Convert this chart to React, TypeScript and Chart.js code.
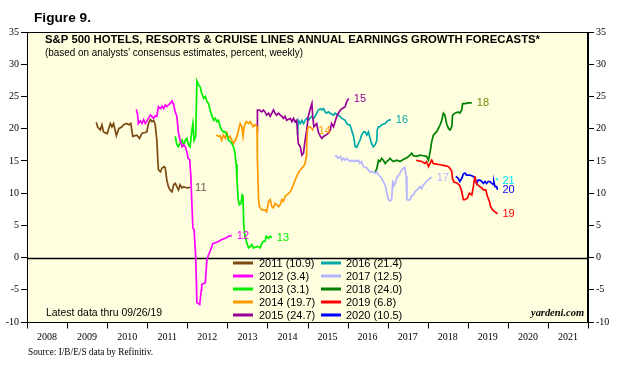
import React, { useEffect, useRef } from "react";
import { Chart, registerables } from "chart.js";

Chart.register(...registerables);

type P = [number, number];

// ---- data: [year (decimal), forecast growth %] ----
const s2011: P[] = [[2009.73,21.0],[2009.76,20.3],[2009.83,19.8],[2009.87,20.6],[2009.91,19.5],[2010.00,19.2],[2010.08,20.8],[2010.12,20.3],[2010.16,20.8],[2010.23,18.9],[2010.29,20.0],[2010.37,20.3],[2010.41,20.6],[2010.49,20.8],[2010.54,20.6],[2010.59,20.8],[2010.64,18.8],[2010.74,19.0],[2010.81,18.5],[2010.87,19.3],[2010.95,19.4],[2010.99,19.5],[2011.03,20.8],[2011.08,21.4],[2011.12,21.1],[2011.16,21.3],[2011.20,20.6],[2011.24,18.2],[2011.26,15.7],[2011.28,13.6],[2011.33,13.3],[2011.37,13.9],[2011.42,14.1],[2011.45,13.9],[2011.49,12.0],[2011.53,11.0],[2011.57,10.5],[2011.62,10.2],[2011.66,11.3],[2011.70,11.5],[2011.74,11.0],[2011.78,10.5],[2011.82,11.3],[2011.87,10.8],[2011.91,11.0],[2011.99,10.8],[2012.07,10.9]];
const s2012: P[] = [[2010.73,23.0],[2010.76,22.1],[2010.78,20.8],[2010.83,21.2],[2010.87,20.8],[2010.91,21.4],[2010.95,20.8],[2010.99,21.2],[2011.03,21.6],[2011.08,22.1],[2011.12,21.9],[2011.16,21.6],[2011.20,22.0],[2011.24,21.9],[2011.28,23.4],[2011.33,23.1],[2011.37,23.5],[2011.41,23.1],[2011.45,23.7],[2011.49,23.4],[2011.53,23.7],[2011.57,23.9],[2011.62,24.3],[2011.66,23.7],[2011.70,22.6],[2011.74,21.9],[2011.78,19.3],[2011.82,18.2],[2011.87,17.2],[2011.91,17.5],[2011.95,17.2],[2011.99,16.4],[2012.02,15.4],[2012.06,15.2],[2012.09,12.6],[2012.11,9.0],[2012.14,4.6],[2012.17,4.3],[2012.21,0.2],[2012.24,-7.0],[2012.31,-7.3],[2012.35,-5.0],[2012.36,-4.2],[2012.45,-3.9],[2012.49,-0.3],[2012.53,0.4],[2012.57,1.0],[2012.64,2.2],[2012.70,2.3],[2012.78,2.5],[2012.86,2.8],[2012.95,3.0],[2013.03,3.3],[2013.11,3.4]];
const s2013: P[] = [[2011.70,18.8],[2011.74,17.5],[2011.78,17.2],[2011.82,17.7],[2011.87,18.2],[2011.91,17.5],[2011.95,18.2],[2011.99,18.5],[2012.03,17.5],[2012.07,17.2],[2012.11,19.5],[2012.14,20.8],[2012.17,18.2],[2012.21,18.8],[2012.24,27.4],[2012.28,26.8],[2012.32,26.5],[2012.36,25.5],[2012.41,24.7],[2012.45,25.0],[2012.49,24.2],[2012.53,23.9],[2012.57,22.9],[2012.61,22.1],[2012.66,21.3],[2012.70,21.6],[2012.74,21.1],[2012.78,21.3],[2012.82,20.3],[2012.86,19.8],[2012.90,19.5],[2012.95,19.5],[2012.99,19.0],[2013.03,18.2],[2013.07,18.0],[2013.11,17.7],[2013.15,17.2],[2013.19,16.2],[2013.22,14.5],[2013.24,12.0],[2013.27,9.0],[2013.30,8.2],[2013.34,8.4],[2013.37,9.7],[2013.39,9.5],[2013.41,5.0],[2013.44,3.3],[2013.49,2.2],[2013.53,1.5],[2013.57,1.7],[2013.61,2.0],[2013.65,1.5],[2013.74,1.7],[2013.78,1.7],[2013.82,1.5],[2013.86,2.2],[2013.90,2.5],[2013.94,2.5],[2013.97,3.3],[2014.03,3.0],[2014.07,3.3],[2014.11,3.1]];
const s2014: P[] = [[2012.72,19.0],[2012.78,18.8],[2012.82,18.9],[2012.86,18.2],[2012.90,19.0],[2012.95,18.5],[2012.99,19.3],[2013.03,18.5],[2013.07,18.8],[2013.11,18.2],[2013.15,17.7],[2013.20,18.2],[2013.24,18.8],[2013.28,19.8],[2013.32,20.8],[2013.36,20.3],[2013.39,18.8],[2013.42,20.3],[2013.47,21.1],[2013.53,20.8],[2013.57,21.1],[2013.64,20.3],[2013.69,20.6],[2013.74,20.3],[2013.75,15.1],[2013.78,9.0],[2013.80,7.9],[2013.86,7.4],[2013.94,7.4],[2013.98,7.1],[2014.03,8.7],[2014.07,9.0],[2014.11,7.9],[2014.15,7.7],[2014.19,8.4],[2014.23,8.2],[2014.28,7.9],[2014.32,8.2],[2014.36,9.0],[2014.40,8.7],[2014.44,9.5],[2014.48,9.7],[2014.57,10.2],[2014.61,10.7],[2014.65,11.3],[2014.69,12.0],[2014.73,12.6],[2014.77,13.1],[2014.82,13.6],[2014.86,13.9],[2014.90,14.1],[2014.94,14.6],[2014.97,15.7],[2014.98,17.7],[2015.00,19.8],[2015.02,20.3],[2015.06,20.3],[2015.11,20.0],[2015.15,19.7]];
const s2015: P[] = [[2013.74,19.5],[2013.75,22.9],[2013.80,22.9],[2013.86,22.6],[2013.90,22.9],[2013.94,22.6],[2013.98,22.1],[2014.03,22.4],[2014.07,21.9],[2014.11,22.4],[2014.15,22.9],[2014.19,22.4],[2014.23,22.1],[2014.28,22.4],[2014.32,22.1],[2014.36,21.9],[2014.40,21.6],[2014.44,21.9],[2014.48,21.3],[2014.57,21.6],[2014.61,21.1],[2014.65,21.6],[2014.69,21.1],[2014.73,21.3],[2014.75,19.5],[2014.77,17.7],[2014.82,17.2],[2014.86,15.9],[2014.90,16.2],[2014.94,18.2],[2014.98,19.8],[2015.02,21.9],[2015.06,22.9],[2015.11,23.9],[2015.13,21.9],[2015.16,20.3],[2015.23,20.8],[2015.27,19.5],[2015.32,18.8],[2015.36,18.5],[2015.40,18.8],[2015.46,19.0],[2015.52,19.3],[2015.57,19.8],[2015.60,20.8],[2015.65,20.3],[2015.69,21.1],[2015.73,21.9],[2015.77,22.4],[2015.82,22.9],[2015.86,23.1],[2015.94,23.4],[2015.98,24.2],[2016.03,24.7]];
const s2016: P[] = [[2014.75,19.0],[2014.77,21.3],[2014.82,20.8],[2014.86,21.3],[2014.90,20.8],[2014.94,21.3],[2014.98,21.6],[2015.02,21.3],[2015.06,21.6],[2015.11,21.9],[2015.15,21.6],[2015.19,21.9],[2015.23,22.4],[2015.27,22.9],[2015.32,23.1],[2015.36,22.9],[2015.40,23.1],[2015.44,22.6],[2015.48,22.4],[2015.52,22.6],[2015.57,22.4],[2015.65,22.1],[2015.69,22.4],[2015.77,22.1],[2015.86,21.6],[2015.94,21.3],[2015.98,20.8],[2016.02,20.6],[2016.06,20.6],[2016.10,19.8],[2016.15,18.8],[2016.19,17.2],[2016.23,17.1],[2016.27,17.7],[2016.31,18.2],[2016.35,19.0],[2016.40,19.5],[2016.44,19.5],[2016.48,19.0],[2016.52,19.5],[2016.56,18.5],[2016.60,17.7],[2016.64,17.2],[2016.69,17.5],[2016.73,18.2],[2016.74,19.8],[2016.77,20.3],[2016.81,20.3],[2016.85,20.6],[2016.94,20.8],[2016.98,21.1],[2017.02,21.3],[2017.08,21.4]];
const s2017: P[] = [[2015.69,15.9],[2015.73,15.7],[2015.77,15.4],[2015.82,15.7],[2015.86,15.1],[2015.90,15.4],[2015.94,15.1],[2015.98,15.4],[2016.02,15.1],[2016.06,14.9],[2016.10,15.1],[2016.15,14.9],[2016.19,15.1],[2016.23,14.9],[2016.27,15.1],[2016.31,14.6],[2016.35,14.9],[2016.40,14.1],[2016.48,13.9],[2016.56,13.3],[2016.64,13.3],[2016.69,13.1],[2016.73,13.3],[2016.77,12.8],[2016.81,12.6],[2016.85,12.3],[2016.89,11.8],[2016.94,11.2],[2016.98,10.0],[2017.02,9.0],[2017.06,8.8],[2017.10,9.0],[2017.13,12.0],[2017.14,11.0],[2017.19,11.5],[2017.23,12.4],[2017.31,13.1],[2017.35,13.6],[2017.43,14.0],[2017.46,12.6],[2017.48,9.0],[2017.52,8.9],[2017.56,9.0],[2017.60,9.6],[2017.64,9.7],[2017.68,10.2],[2017.73,10.5],[2017.77,10.7],[2017.81,11.0],[2017.85,10.7],[2017.89,11.3],[2017.93,11.5],[2017.97,11.8],[2018.01,12.0],[2018.06,12.3],[2018.10,12.5]];
const s2018: P[] = [[2016.69,13.3],[2016.73,13.8],[2016.77,15.1],[2016.81,14.9],[2016.85,15.4],[2016.89,15.1],[2016.94,14.6],[2016.98,14.9],[2017.02,15.1],[2017.06,15.4],[2017.10,15.1],[2017.14,14.9],[2017.23,15.1],[2017.31,14.9],[2017.39,15.2],[2017.48,15.5],[2017.56,15.9],[2017.60,16.2],[2017.64,15.8],[2017.72,15.7],[2017.81,15.9],[2017.89,15.8],[2017.97,15.7],[2018.02,15.1],[2018.06,16.4],[2018.10,18.0],[2018.14,19.0],[2018.22,19.5],[2018.31,20.6],[2018.35,21.3],[2018.39,22.4],[2018.43,22.1],[2018.47,20.8],[2018.52,20.0],[2018.56,19.8],[2018.60,20.3],[2018.62,22.1],[2018.68,22.4],[2018.76,22.6],[2018.80,22.4],[2018.85,22.9],[2018.87,23.9],[2018.93,23.9],[2019.01,24.0],[2019.10,24.0]];
const s2019: P[] = [[2017.71,15.1],[2017.77,15.0],[2017.85,14.9],[2017.93,14.6],[2017.97,14.9],[2018.02,14.1],[2018.06,14.6],[2018.10,15.1],[2018.14,14.6],[2018.22,14.5],[2018.31,14.4],[2018.39,14.3],[2018.47,14.2],[2018.52,14.1],[2018.56,13.8],[2018.60,13.4],[2018.62,12.2],[2018.66,11.7],[2018.72,11.6],[2018.80,11.2],[2018.85,10.2],[2018.89,9.0],[2018.93,9.0],[2018.99,9.2],[2019.04,10.0],[2019.10,9.7],[2019.14,11.0],[2019.16,12.0],[2019.18,12.6],[2019.20,11.8],[2019.24,11.3],[2019.30,11.0],[2019.35,10.8],[2019.39,10.5],[2019.45,10.5],[2019.49,9.5],[2019.54,8.7],[2019.57,7.9],[2019.62,7.4],[2019.68,7.1],[2019.74,6.8]];
const s2020: P[] = [[2018.70,12.6],[2018.76,12.3],[2018.80,11.8],[2018.85,12.3],[2018.89,13.0],[2018.93,13.1],[2018.97,12.8],[2019.05,12.8],[2019.14,12.6],[2019.18,12.3],[2019.22,11.5],[2019.26,12.0],[2019.30,12.0],[2019.35,11.8],[2019.39,11.5],[2019.43,11.8],[2019.47,11.5],[2019.51,11.8],[2019.55,11.8],[2019.60,11.5],[2019.64,11.3],[2019.65,11.8],[2019.68,11.0],[2019.72,11.0],[2019.74,10.5]];
const s2021: P[] = [[2019.72,12.3],[2019.74,12.0]];

const seriesData: P[][] = [s2011, s2012, s2013, s2014, s2015, s2016, s2017, s2018, s2019, s2020, s2021];
const seriesYears = ["2011", "2012", "2013", "2014", "2015", "2016", "2017", "2018", "2019", "2020", "2021"];
const endLabels = ["11", "12", "13", "14", "15", "16", "17", "18", "19", "20", "21"];
const latestValues = [10.9, 3.4, 3.1, 19.7, 24.7, 21.4, 12.5, 24.0, 6.8, 10.5];
const seriesColors = ["#7B4A12", "#FF00FF", "#00EE00", "#FF9900", "#990099", "#00AAAA", "#B4B4FF", "#008000", "#FF0000", "#0000FF", "#00E5FF"];
const labelColors = ["#6B5A48", "#FF00FF", "#00EE00", "#FF9900", "#990099", "#00AAAA", "#B4B4FF", "#6E8B00", "#FF0000", "#0000FF", "#00E5FF"];
const xYears = [2008, 2009, 2010, 2011, 2012, 2013, 2014, 2015, 2016, 2017, 2018, 2019, 2020, 2021];
const yMin = -10;
const yMax = 35;
const yStep = 5;

const figureText = "Figure 9.";
const titleText = "S&P 500 HOTELS, RESORTS & CRUISE LINES ANNUAL EARNINGS GROWTH FORECASTS*";
const subtitleText = "(based on analysts' consensus estimates, percent, weekly)";
const latestText = "Latest data thru 09/26/19";
const brandText = "yardeni.com";
const sourceText = "Source: I/B/E/S data by Refinitiv.";

const SANS = "'Liberation Sans', Arial, sans-serif";
const SERIF = "'Liberation Serif', 'Times New Roman', serif";

function fitText(ctx: CanvasRenderingContext2D, text: string, x: number, y: number, width: number, font: string, color: string) {
  ctx.save();
  ctx.font = font;
  ctx.fillStyle = color;
  ctx.textBaseline = "middle";
  ctx.textAlign = "left";
  const m = ctx.measureText(text).width;
  ctx.translate(x, y);
  ctx.scale(width / m, 1);
  ctx.fillText(text, 0, 0);
  ctx.restore();
}

const decorPlugin = {
  id: "decor",
  beforeDraw(chart: any) {
    const { ctx, chartArea: a } = chart;
    ctx.save();
    ctx.fillStyle = "#FFFFE0";
    ctx.fillRect(a.left, a.top, a.right - a.left, a.bottom - a.top);
    ctx.restore();
  },
  beforeDatasetsDraw(chart: any) {
    const { ctx, chartArea: a } = chart;
    const y0 = Math.round(chart.scales.y.getPixelForValue(0)) + 0.5;
    ctx.save();
    ctx.strokeStyle = "#000";
    ctx.lineWidth = 1.3;
    ctx.beginPath();
    ctx.moveTo(a.left, y0);
    ctx.lineTo(a.right, y0);
    ctx.stroke();
    ctx.restore();
  },
  afterDatasetsDraw(chart: any) {
    const { ctx, chartArea: a } = chart;
    // end-of-series labels
    ctx.save();
    ctx.font = `11px ${SANS}`;
    ctx.textBaseline = "middle";
    ctx.textAlign = "left";
    chart.data.datasets.forEach((ds: any, i: number) => {
      const meta = chart.getDatasetMeta(i);
      const last = meta.data[meta.data.length - 1];
      if (!last) return;
      ctx.fillStyle = labelColors[i];
      ctx.fillText(endLabels[i], last.x + 5, last.y + 0.5);
    });
    ctx.restore();

    // plot frame
    ctx.save();
    ctx.strokeStyle = "#000";
    ctx.lineWidth = 1;
    ctx.strokeRect(Math.round(a.left) + 0.5, Math.round(a.top) + 0.5, Math.round(a.right - a.left) - 1, Math.round(a.bottom - a.top));
    ctx.restore();

    // x axis: year boundaries and centred labels
    const xs = chart.scales.x;
    ctx.save();
    ctx.strokeStyle = "#000";
    ctx.lineWidth = 1;
    ctx.fillStyle = "#000";
    ctx.font = `10px ${SERIF}`;
    ctx.textAlign = "center";
    ctx.textBaseline = "middle";
    const bottom = Math.round(a.bottom) + 0.5;
    for (let k = 0; k <= xYears.length; k++) {
      const yr = xYears[0] + k;
      const px = Math.round(xs.getPixelForValue(yr)) + 0.5;
      ctx.beginPath();
      ctx.moveTo(px, bottom);
      ctx.lineTo(px, bottom + 6);
      ctx.stroke();
    }
    xYears.forEach((yr) => {
      ctx.fillText(String(yr), xs.getPixelForValue(yr + 0.5), a.bottom + 15);
    });
    ctx.restore();

    // legend (two columns inside the plot)
    ctx.save();
    ctx.font = `11px ${SANS}`;
    ctx.textBaseline = "middle";
    ctx.textAlign = "left";
    latestValues.forEach((v, i) => {
      const col = i < 5 ? 0 : 1;
      const row = i % 5;
      const lx = col === 0 ? 233 : 321;
      const tx = col === 0 ? 259 : 346;
      const ly = 263 + row * 13;
      ctx.strokeStyle = seriesColors[i];
      ctx.lineWidth = 3;
      ctx.beginPath();
      ctx.moveTo(lx, ly);
      ctx.lineTo(lx + 20, ly);
      ctx.stroke();
      ctx.fillStyle = "#000";
      ctx.fillText(`${seriesYears[i]} (${v.toFixed(1)})`, tx, ly + 0.5);
    });
    ctx.restore();

    // texts
    fitText(ctx, titleText, 45, 40, 495, `bold 11.5px ${SANS}`, "#000");
    fitText(ctx, subtitleText, 45, 53, 258, `10px ${SANS}`, "#000");
    fitText(ctx, latestText, 46, 313, 116, `11px ${SANS}`, "#000");
    fitText(ctx, brandText, 531, 313, 53, `italic bold 11px ${SERIF}`, "#000");
  },
  afterDraw(chart: any) {
    const { ctx } = chart;
    fitText(ctx, figureText, 34, 19, 57, `bold 12px ${SANS}`, "#000");
    fitText(ctx, sourceText, 28, 352, 125, `9.5px ${SERIF}`, "#000");
  },
};

export default function App() {
  const ref = useRef<HTMLCanvasElement | null>(null);

  useEffect(() => {
    const canvas = ref.current;
    if (!canvas) return;
    const yAxis = (position: "left" | "right", width: number) => ({
      type: "linear" as const,
      position,
      min: yMin,
      max: yMax,
      afterFit: (s: any) => {
        s.width = width;
      },
      ticks: {
        stepSize: yStep,
        color: "#000",
        padding: 2,
        font: { family: SERIF, size: 10 },
      },
      grid: {
        drawOnChartArea: false,
        drawTicks: true,
        tickLength: 6,
        color: "#000",
        lineWidth: 1,
      },
      border: { display: true, color: "#000", width: 1 },
    });

    const chart = new Chart(canvas, {
      type: "line",
      data: {
        datasets: seriesData.map((d, i) => ({
          label: seriesYears[i],
          data: d.map(([x, y]) => ({ x, y })),
          borderColor: seriesColors[i],
          backgroundColor: seriesColors[i],
          borderWidth: 1.7,
          pointRadius: 0,
          tension: 0,
          fill: false,
        })),
      },
      options: {
        responsive: false,
        animation: false,
        devicePixelRatio: 1,
        layout: { padding: { top: 32, left: 0, right: 0, bottom: 0 } },
        plugins: {
          legend: { display: false },
          title: { display: false },
          tooltip: { enabled: false },
        },
        scales: {
          x: {
            type: "linear",
            min: xYears[0],
            max: xYears[xYears.length - 1] + 1,
            afterFit: (s: any) => {
              s.height = 47;
            },
            ticks: { display: false },
            grid: { display: false, drawTicks: false },
            border: { display: false },
          },
          y: yAxis("left", 27),
          y2: yAxis("right", 45),
        },
      },
      plugins: [decorPlugin],
    });
    return () => chart.destroy();
  }, []);

  return (
    <div style={{ position: "absolute", left: 0, top: 0, width: 633, height: 369, background: "#fff" }}>
      <canvas ref={ref} width={633} height={369} style={{ display: "block" }} />
    </div>
  );
}
